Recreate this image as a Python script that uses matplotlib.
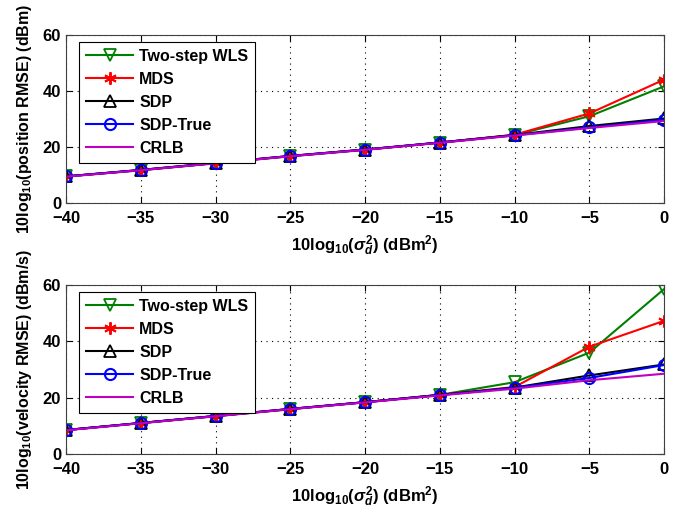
import matplotlib
matplotlib.use('Agg')
import matplotlib.pyplot as plt
import numpy as np

plt.rcParams['font.family'] = ['Liberation Sans', 'DejaVu Sans']
plt.rcParams['font.weight'] = 'bold'
plt.rcParams['mathtext.fontset'] = 'custom'
plt.rcParams['mathtext.rm'] = 'Liberation Sans:bold'
plt.rcParams['mathtext.it'] = 'Liberation Sans:bold:italic'
plt.rcParams['mathtext.bf'] = 'Liberation Sans:bold'

# noise variance (dBm^2)
sigma = [-40, -35, -30, -25, -20, -15, -10, -5, 0]

# position RMSE (dBm)
pos_wls = [9.5, 11.7, 14.2, 16.7, 19.0, 21.6, 24.3, 31.0, 41.7]
pos_mds = [9.5, 11.8, 14.3, 16.8, 19.1, 21.6, 24.4, 32.0, 44.1]
pos_sdp = [9.5, 11.8, 14.3, 16.8, 19.1, 21.6, 24.3, 27.5, 30.2]
pos_sdpt = [9.5, 11.8, 14.3, 16.8, 19.1, 21.6, 24.2, 27.0, 29.8]
pos_crlb = [9.4, 11.7, 14.2, 16.7, 19.0, 21.5, 24.1, 26.8, 29.3]

# velocity RMSE (dBm/s)
vel_wls = [8.5, 11.0, 13.4, 15.9, 18.4, 21.0, 25.5, 36.0, 58.6]
vel_mds = [8.5, 11.0, 13.5, 16.0, 18.4, 21.0, 23.8, 38.1, 47.3]
vel_sdp = [8.5, 11.0, 13.5, 16.0, 18.4, 21.0, 23.6, 27.9, 31.8]
vel_sdpt = [8.5, 11.0, 13.5, 16.0, 18.4, 20.9, 23.5, 27.0, 31.6]
vel_crlb = [8.4, 10.9, 13.4, 15.9, 18.3, 20.8, 23.2, 26.2, 28.5]

labels = ['Two-step WLS', 'MDS', 'SDP', 'SDP-True', 'CRLB']

f = plt.figure(figsize=(6.86, 5.12), dpi=100)
ax1 = f.add_axes([0.0962, 0.6035, 0.872, 0.328])
ax2 = f.add_axes([0.0962, 0.1133, 0.872, 0.330])


def draw(ax, wls, mds, sdp, sdpt, crlb, ylab):
    ax.plot(sigma, wls, color='#008000', marker='v', mfc='none', ms=8, mew=1.3, lw=1.5, label=labels[0])
    ax.plot(sigma, mds, color='#ff0000', marker=(6, 2, 0), ms=9, mew=1.4, lw=1.5, label=labels[1])
    ax.plot(sigma, sdp, color='k', marker='^', mfc='none', ms=8, mew=1.3, lw=1.5, label=labels[2])
    ax.plot(sigma, sdpt, color='#0000ff', marker='o', mfc='none', ms=8, mew=1.5, lw=1.5, label=labels[3])
    ax.plot(sigma, crlb, color='#c000c0', lw=1.5, label=labels[4])
    ax.set_xlim(-40, 0)
    ax.set_ylim(0, 60)
    ax.set_xticks(np.arange(-40, 1, 5))
    ax.set_yticks([0, 20, 40, 60])
    ax.grid(True, linestyle=(0, (1, 4)), color='k', lw=0.8)
    ax.tick_params(direction='in', labelsize=12, length=4, width=0.8, top=True, right=True)
    ax.tick_params(axis='x', pad=6)
    for s in ax.spines.values():
        s.set_color('#404040')
    ax.set_ylabel(ylab, fontsize=11.5, fontweight='bold', labelpad=6)
    ax.set_xlabel(r'10log$_{10}$($\sigma^2_d$) (dBm$^2$)', fontsize=12, fontweight='bold', labelpad=5)
    leg = ax.legend(loc='upper left', bbox_to_anchor=(0.022, 0.96), borderaxespad=0,
                    fontsize=11.5, fancybox=False, framealpha=1,
                    edgecolor='k', handlelength=2.9, labelspacing=0.5,
                    handletextpad=0.4, borderpad=0.45)
    leg.get_frame().set_linewidth(0.8)


draw(ax1, pos_wls, pos_mds, pos_sdp, pos_sdpt, pos_crlb, r'10log$_{10}$(position RMSE) (dBm)')
draw(ax2, vel_wls, vel_mds, vel_sdp, vel_sdpt, vel_crlb, r'10log$_{10}$(velocity RMSE) (dBm/s)')

plt.savefig('out.png', dpi=100)
